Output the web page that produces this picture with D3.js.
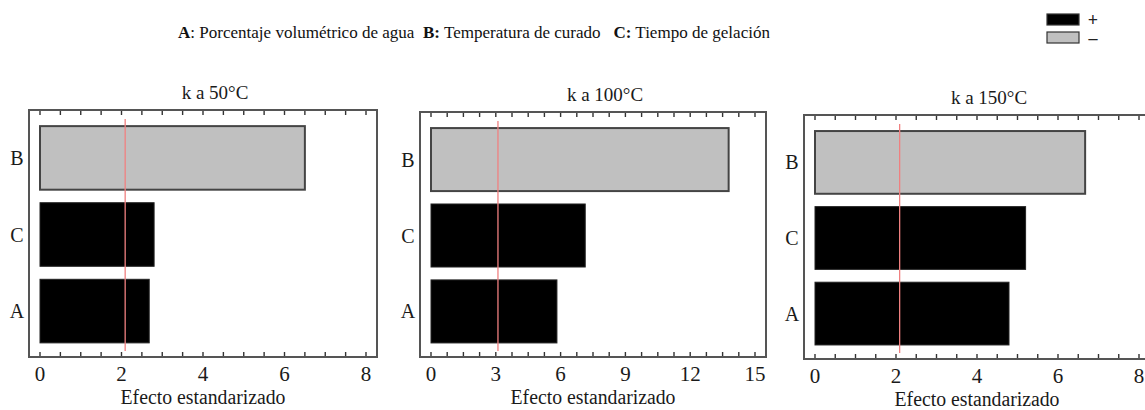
<!DOCTYPE html>
<html>
<head>
<meta charset="utf-8">
<script src="https://cdn.jsdelivr.net/npm/d3@7"></script>
<style>
  html, body { margin: 0; padding: 0; background: #fff; }
  svg { display: block; font-family: "Liberation Serif", "DejaVu Serif", serif; }
  .frame { fill: none; stroke: #555; stroke-width: 2; }
  .tick { stroke: #333; stroke-width: 1.4; }
  .ticklabel { font-size: 21px; fill: #1a1a1a; text-anchor: middle; }
  .cat { font-size: 20px; fill: #1a1a1a; text-anchor: middle; }
  .title { font-size: 19px; fill: #1a1a1a; text-anchor: middle; }
  .xtitle { font-size: 20px; fill: #1a1a1a; text-anchor: middle; }
  .header { font-size: 17px; fill: #111; }
</style>
</head>
<body>
<svg id="chart" width="1145" height="410"></svg>
<script>
(function () {
  "use strict";

  const factors = ["B", "C", "A"];
  const factorSigns = ["-", "+", "+"];
  const panelTitles = ["k a 50°C", "k a 100°C", "k a 150°C"];
  const effects50 = [6.5, 2.8, 2.68];
  const effects100 = [13.78, 7.14, 5.83];
  const effects150 = [6.67, 5.2, 4.79];
  const criticalValues = [2.09, 3.1, 2.09];
  const axisMax = [8, 15, 8];
  const majorTicks = [[0, 2, 4, 6, 8], [0, 3, 6, 9, 12, 15], [0, 2, 4, 6, 8]];
  const minorStep = [0.5, 0.75, 0.5];
  const headerParts = [
    ["A", ": Porcentaje volumétrico de agua  "],
    ["B:", " Temperatura de curado   "],
    ["C:", " Tiempo de gelación"]
  ];
  const legendSigns = ["+", "-"];

  const effects = [effects50, effects100, effects150];
  const fillFor = s => s === "+" ? "#000" : "#c0c0c0";

  const svg = d3.select("#chart");

  // header with factor key
  const header = svg.append("text")
    .attr("class", "header")
    .attr("x", 178)
    .attr("y", 38);
  headerParts.forEach(([k, rest]) => {
    header.append("tspan").attr("font-weight", "bold").text(k);
    header.append("tspan").attr("xml:space", "preserve").text(rest);
  });
  header.attr("textLength", 592).attr("lengthAdjust", "spacingAndGlyphs");

  // sign legend
  const legend = svg.append("g").attr("transform", "translate(1047,14)");
  legend.selectAll("rect")
    .data(legendSigns)
    .join("rect")
    .attr("x", 0)
    .attr("y", (d, i) => i * 18)
    .attr("width", 32)
    .attr("height", 11)
    .attr("fill", fillFor)
    .attr("stroke", "#333")
    .attr("stroke-width", 1.2);
  legend.selectAll("text")
    .data(legendSigns)
    .join("text")
    .attr("x", 46)
    .attr("y", (d, i) => i * 18 + 12)
    .attr("font-size", 18)
    .attr("font-weight", "bold")
    .attr("text-anchor", "middle")
    .attr("fill", "#222")
    .text(d => d === "-" ? "–" : d);

  const frames = [
    { left: 29, top: 110, width: 348, height: 247 },
    { left: 420, top: 112, width: 346, height: 245 },
    { left: 804, top: 115, width: 346, height: 244 }
  ];

  frames.forEach((f, p) => {
    const g = svg.append("g").attr("transform", `translate(${f.left},${f.top})`);
    const x = d3.scaleLinear()
      .domain([0, axisMax[p]])
      .range([11, f.width - 11]);
    const y = d3.scaleBand()
      .domain(factors)
      .range([10, f.height - 8])
      .paddingInner(0.17)
      .paddingOuter(0.08);

    const rows = factors.map((k, i) => ({ key: k, value: effects[p][i], sign: factorSigns[i] }));

    g.append("text")
      .attr("class", "title")
      .attr("x", f.width / 2 + 12)
      .attr("y", -11)
      .text(panelTitles[p]);

    g.selectAll(".bar")
      .data(rows)
      .join("rect")
      .attr("class", "bar")
      .attr("x", x(0))
      .attr("y", d => y(d.key))
      .attr("width", d => x(d.value) - x(0))
      .attr("height", y.bandwidth())
      .attr("fill", d => fillFor(d.sign))
      .attr("stroke", d => d.sign === "+" ? "#222" : "#444")
      .attr("stroke-width", d => d.sign === "+" ? 1 : 2);

    g.append("line")
      .attr("x1", x(criticalValues[p]))
      .attr("x2", x(criticalValues[p]))
      .attr("y1", 9)
      .attr("y2", f.height - 6)
      .attr("stroke", "#f08080")
      .attr("stroke-width", 1.3);

    g.append("rect")
      .attr("class", "frame")
      .attr("width", f.width)
      .attr("height", f.height);

    const minor = d3.range(0, axisMax[p] + 1e-9, minorStep[p]);
    g.selectAll(".tick-top")
      .data(minor)
      .join("line")
      .attr("class", "tick")
      .attr("x1", d => x(d)).attr("x2", d => x(d))
      .attr("y1", 1).attr("y2", 5);
    g.selectAll(".tick-bottom")
      .data(minor)
      .join("line")
      .attr("class", "tick")
      .attr("x1", d => x(d)).attr("x2", d => x(d))
      .attr("y1", f.height - 1).attr("y2", f.height - 5);

    g.selectAll(".ticklabel")
      .data(majorTicks[p])
      .join("text")
      .attr("class", "ticklabel")
      .attr("x", d => x(d))
      .attr("y", f.height + 24)
      .text(d => d);

    g.selectAll(".cat")
      .data(factors)
      .join("text")
      .attr("class", "cat")
      .attr("x", -12)
      .attr("y", d => y(d) + y.bandwidth() / 2 + 7)
      .text(d => d);

    g.append("text")
      .attr("class", "xtitle")
      .attr("x", (x(0) + x(axisMax[p])) / 2)
      .attr("y", f.height + 47)
      .attr("textLength", 165)
      .attr("lengthAdjust", "spacingAndGlyphs")
      .text("Efecto estandarizado");
  });
})();
</script>
</body>
</html>
